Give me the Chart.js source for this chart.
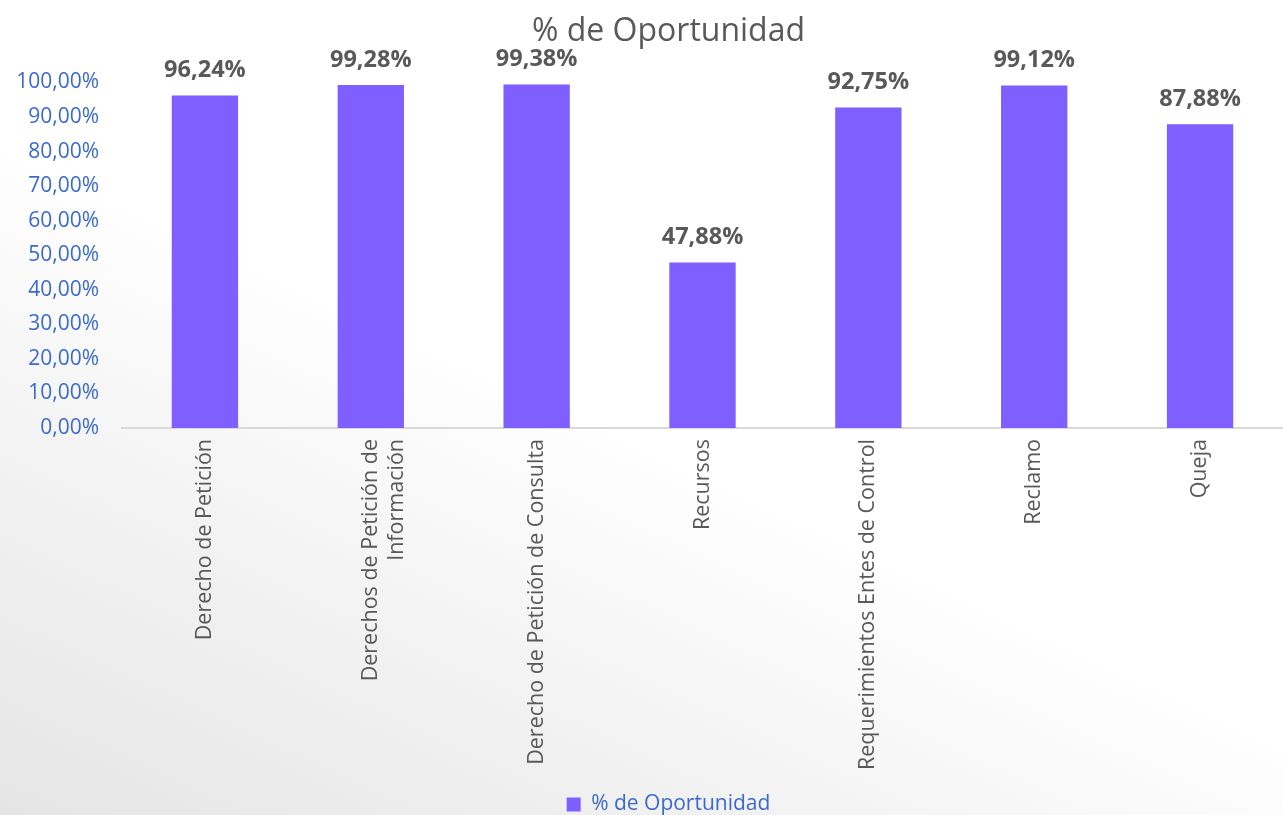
<!DOCTYPE html>
<html lang="es">
<head>
    <meta charset="UTF-8">
    <title>% de Oportunidad</title>
    <script src="https://cdn.jsdelivr.net/npm/chart.js"></script>
    <style>
        html, body {
            margin: 0;
            padding: 0;
            width: 1283px;
            height: 815px;
            overflow: hidden;
        }
        body {
            background: linear-gradient(205deg, #ffffff 52%, #f2f2f2 75%, #e5e5e5 100%);
            font-family: "Open Sans", sans-serif;
        }
        .chart-box {
            width: 1283px;
            height: 815px;
        }
    </style>
</head>
<body>
    <div class="chart-box">
        <canvas id="grafico"></canvas>
    </div>
    <script>
        // datos del grafico
        const categorias = [
            'Derecho de Petición',
            ['Derechos de Petición de', 'Información'],
            'Derecho de Petición de Consulta',
            'Recursos',
            'Requerimientos Entes de Control',
            'Reclamo',
            'Queja'
        ];
        const oportunidad = [96.24, 99.28, 99.38, 47.88, 92.75, 99.12, 87.88];
        const nombreSerie = '% de Oportunidad';

        const gris = '#595959';
        const azul = '#3a6bcc';
        const morado = '#7f5fff';

        const formatoPct = v => v.toFixed(2).replace('.', ',') + '%';

        // etiquetas de valor encima de cada barra
        const etiquetasValor = {
            id: 'etiquetasValor',
            afterDatasetsDraw(chart) {
                const ctx = chart.ctx;
                const meta = chart.getDatasetMeta(0);
                ctx.save();
                ctx.font = 'bold 23.5px "Open Sans", sans-serif';
                ctx.fillStyle = gris;
                ctx.textAlign = 'center';
                ctx.textBaseline = 'middle';
                meta.data.forEach((bar, i) => {
                    ctx.fillText(formatoPct(oportunidad[i]), bar.x, bar.y - 25);
                });
                ctx.restore();
            }
        };

        // titulo y leyenda centrados algo a la derecha, como en el original
        const centrarCajas = {
            id: 'centrarCajas',
            afterLayout(chart) {
                if (chart.titleBlock) chart.titleBlock.left = 54;
                if (chart.legend) chart.legend.left = 54;
            }
        };

        const ctx = document.getElementById('grafico').getContext('2d');
        new Chart(ctx, {
            type: 'bar',
            data: {
                labels: categorias,
                datasets: [{
                    label: nombreSerie,
                    data: oportunidad,
                    backgroundColor: morado,
                    barPercentage: 0.4,
                    categoryPercentage: 1.0
                }]
            },
            options: {
                responsive: true,
                maintainAspectRatio: false,
                animation: false,
                layout: { padding: { left: 0, right: 0, top: 0, bottom: -10 } },
                plugins: {
                    title: {
                        display: true,
                        text: nombreSerie,
                        color: gris,
                        font: { family: '"Open Sans", sans-serif', size: 32, weight: 'normal' },
                        padding: { top: 13, bottom: 31 }
                    },
                    legend: {
                        position: 'bottom',
                        labels: {
                            color: azul,
                            boxWidth: 14,
                            boxHeight: 14,
                            padding: 2,
                            font: { family: '"Open Sans", sans-serif', size: 21, lineHeight: 1 }
                        }
                    },
                    tooltip: { enabled: false }
                },
                scales: {
                    x: {
                        grid: { display: false },
                        border: { display: true, color: '#d9d9d9', width: 2 },
                        ticks: {
                            color: gris,
                            minRotation: 90,
                            maxRotation: 90,
                            padding: 3,
                            font: { family: '"Open Sans", sans-serif', size: 21.5 }
                        },
                        afterFit(scale) {
                            scale.height = 364;
                        }
                    },
                    y: {
                        min: 0,
                        max: 100,
                        grid: { display: false },
                        border: { display: false },
                        ticks: {
                            stepSize: 10,
                            color: azul,
                            padding: 15,
                            font: { family: '"Open Sans", sans-serif', size: 21 },
                            callback: v => formatoPct(v)
                        },
                        afterFit(scale) {
                            scale.width = 122;
                        }
                    }
                }
            },
            plugins: [etiquetasValor, centrarCajas]
        });
    </script>
</body>
</html>
